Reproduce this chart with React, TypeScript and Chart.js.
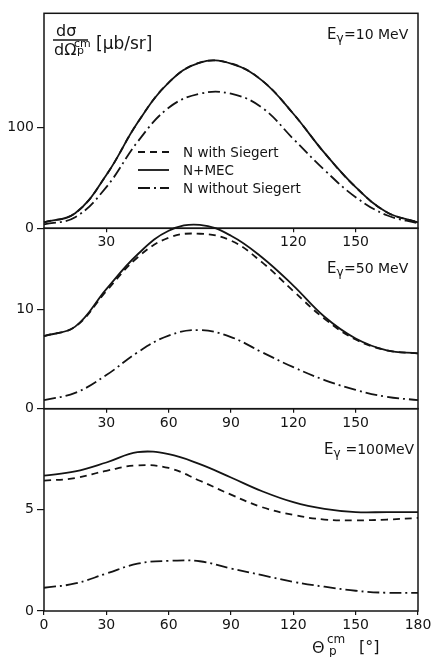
import React, { useEffect, useRef } from 'react';
import { Chart, registerables } from 'chart.js';

Chart.register(...registerables);

// ---------- data ----------
const angles = [0, 15, 30, 45, 60, 75, 90, 105, 120, 135, 150, 165, 180];

// E_gamma = 10 MeV
const mec10 = [6, 15, 53, 105, 145, 165, 164, 147, 114, 75, 41, 16, 6];
const siegert10 = [6, 15, 53, 105, 145, 165, 164, 147, 114, 75, 41, 16, 6];
const noSiegert10 = [4, 11, 41, 86, 120, 134, 134, 120, 89, 58, 31, 13, 5];

// E_gamma = 50 MeV
const mec50 = [7.35, 8.3, 12.1, 15.6, 18.0, 18.6, 17.5, 15.3, 12.45, 9.3, 7.1, 5.9, 5.6];
const siegert50 = [7.35, 8.3, 11.9, 15.3, 17.3, 17.7, 17.0, 14.8, 11.9, 9.1, 7.0, 5.9, 5.6];
const noSiegert50 = [0.87, 1.6, 3.4, 5.7, 7.4, 7.95, 7.25, 5.7, 4.2, 2.9, 1.9, 1.2, 0.87];

// E_gamma = 100 MeV
const mec100 = [6.69, 6.9, 7.34, 7.85, 7.75, 7.26, 6.6, 5.92, 5.38, 5.05, 4.89, 4.89, 4.89];
const siegert100 = [6.44, 6.57, 6.93, 7.2, 7.07, 6.44, 5.75, 5.13, 4.75, 4.52, 4.48, 4.52, 4.6];
const noSiegert100 = [1.15, 1.36, 1.85, 2.34, 2.48, 2.46, 2.1, 1.77, 1.44, 1.2, 1.0, 0.9, 0.9];

const xTicksTop = [30, 120, 150];
const xTicksMid = [30, 60, 90, 120, 150];
const xTicksBottom = [0, 30, 60, 90, 120, 150, 180];

const yTicks10 = [0, 100];
const yTicks50 = [0, 10];
const yTicks100 = [0, 5];

const yMax10 = 214;
const yMax50 = 18.25;
const yMax100 = 10;

const legendLabels = ['N with Siegert', 'N+MEC', 'N without Siegert'];
const energyLabels = ['10 MeV', '50 MeV', '100MeV'];

// ---------- styles ----------
const W = 436;
const H = 657;
const INK = '#141414';
const FONT = '"DejaVu Sans", sans-serif';
const DASHED = [7, 5];
const DASHDOT = [12, 4, 2, 4];

const toPts = (ys: number[]) => ys.map((y, i) => ({ x: angles[i], y }));

type PanelSpec = {
  top: number;
  bottom: number;
  yMax: number;
  yTicks: number[];
  xTicks: number[];
  mec: number[];
  siegert: number[];
  noSiegert: number[];
  draw: (ctx: CanvasRenderingContext2D) => void;
};

function txt(ctx: CanvasRenderingContext2D, s: string, x: number, y: number, size: number) {
  ctx.font = `${size}px ${FONT}`;
  ctx.fillStyle = INK;
  ctx.textAlign = 'left';
  ctx.textBaseline = 'alphabetic';
  ctx.fillText(s, x, y);
}

function energy(ctx: CanvasRenderingContext2D, x: number, y: number, label: string, gap: string) {
  txt(ctx, 'E', x, y, 15);
  txt(ctx, 'γ', x + 9.5, y + 3, 12);
  txt(ctx, gap + '=' + label, x + 17, y, 14);
}

function legend(ctx: CanvasRenderingContext2D) {
  const rows = [
    { dash: DASHED, y: 152 },
    { dash: [] as number[], y: 170 },
    { dash: DASHDOT, y: 188 },
  ];
  rows.forEach((r, i) => {
    ctx.save();
    ctx.strokeStyle = INK;
    ctx.lineWidth = 1.8;
    ctx.setLineDash(r.dash);
    ctx.beginPath();
    ctx.moveTo(138, r.y);
    ctx.lineTo(169, r.y);
    ctx.stroke();
    ctx.restore();
    txt(ctx, legendLabels[i], 183, r.y + 5, 13.5);
  });
}

const panels: PanelSpec[] = [
  {
    top: 13.3,
    bottom: 228.3,
    yMax: yMax10,
    yTicks: yTicks10,
    xTicks: xTicksTop,
    mec: mec10,
    siegert: siegert10,
    noSiegert: noSiegert10,
    draw: (ctx) => {
      txt(ctx, 'dσ', 56, 36, 16);
      ctx.save();
      ctx.strokeStyle = INK;
      ctx.lineWidth = 1.3;
      ctx.beginPath();
      ctx.moveTo(53, 40);
      ctx.lineTo(88, 40);
      ctx.stroke();
      ctx.restore();
      txt(ctx, 'dΩ', 54, 55, 16);
      txt(ctx, 'cm', 74, 47, 11);
      txt(ctx, 'p', 77, 54, 11);
      txt(ctx, '[μb/sr]', 96, 49, 17);
      energy(ctx, 327, 39, energyLabels[0], '');
      legend(ctx);
    },
  },
  {
    top: 228.3,
    bottom: 408.7,
    yMax: yMax50,
    yTicks: yTicks50,
    xTicks: xTicksMid,
    mec: mec50,
    siegert: siegert50,
    noSiegert: noSiegert50,
    draw: (ctx) => {
      energy(ctx, 327, 273, energyLabels[1], '');
    },
  },
  {
    top: 408.7,
    bottom: 611,
    yMax: yMax100,
    yTicks: yTicks100,
    xTicks: xTicksBottom,
    mec: mec100,
    siegert: siegert100,
    noSiegert: noSiegert100,
    draw: (ctx) => {
      energy(ctx, 324, 454, energyLabels[2], ' ');
      txt(ctx, 'Θ', 312, 653, 16);
      txt(ctx, 'cm', 327, 643, 12);
      txt(ctx, 'p', 329, 655, 12);
      txt(ctx, '[°]', 359, 652, 16);
    },
  },
];

const X_AXIS_H = 22;
const Y_AXIS_W = 44;

function makeChart(canvas: HTMLCanvasElement, p: PanelSpec) {
  const framePlugin = {
    id: 'frameAndText',
    afterDraw(chart: any) {
      const ctx: CanvasRenderingContext2D = chart.ctx;
      const a = chart.chartArea;
      ctx.save();
      ctx.strokeStyle = INK;
      ctx.lineWidth = 1.5;
      ctx.setLineDash([]);
      ctx.strokeRect(a.left, a.top, a.right - a.left, a.bottom - a.top);
      ctx.restore();
      p.draw(ctx);
    },
  };

  const common = {
    borderColor: INK,
    borderWidth: 1.8,
    pointRadius: 0,
    fill: false,
    tension: 0.4,
    clip: false as const,
  };

  return new Chart(canvas, {
    type: 'line',
    data: {
      datasets: [
        { ...common, label: legendLabels[1], data: toPts(p.mec) },
        { ...common, label: legendLabels[0], data: toPts(p.siegert), borderDash: DASHED },
        { ...common, label: legendLabels[2], data: toPts(p.noSiegert), borderDash: DASHDOT },
      ],
    },
    options: {
      responsive: false,
      animation: false,
      events: [],
      layout: {
        padding: {
          left: 0,
          right: W - 418,
          top: p.top,
          bottom: H - p.bottom - X_AXIS_H,
        },
      },
      plugins: {
        legend: { display: false },
        tooltip: { enabled: false },
      },
      scales: {
        x: {
          type: 'linear',
          min: 0,
          max: 180,
          afterBuildTicks: (s: any) => {
            s.ticks = p.xTicks.map((v) => ({ value: v }));
          },
          afterFit: (s: any) => {
            s.height = X_AXIS_H;
          },
          grid: {
            drawOnChartArea: false,
            drawTicks: true,
            tickLength: 4,
            color: INK,
            lineWidth: 1.2,
          },
          border: { display: false },
          ticks: {
            autoSkip: false,
            maxRotation: 0,
            padding: 2,
            color: INK,
            font: { family: FONT, size: 14 },
          },
        },
        y: {
          type: 'linear',
          min: 0,
          max: p.yMax,
          afterBuildTicks: (s: any) => {
            s.ticks = p.yTicks.map((v) => ({ value: v }));
          },
          afterFit: (s: any) => {
            s.width = Y_AXIS_W;
          },
          grid: {
            drawOnChartArea: false,
            drawTicks: true,
            tickLength: 7,
            color: INK,
            lineWidth: 1.2,
          },
          border: { display: false },
          ticks: {
            padding: 3,
            color: INK,
            font: { family: FONT, size: 14 },
          },
        },
      },
    },
    plugins: [framePlugin],
  } as any);
}

export default function App() {
  const r0 = useRef<HTMLCanvasElement>(null);
  const r1 = useRef<HTMLCanvasElement>(null);
  const r2 = useRef<HTMLCanvasElement>(null);

  useEffect(() => {
    const refs = [r0, r1, r2];
    const charts = refs.map((r, i) => makeChart(r.current as HTMLCanvasElement, panels[i]));
    return () => charts.forEach((c) => c.destroy());
  }, []);

  const cs: React.CSSProperties = {
    position: 'absolute',
    left: 0,
    top: 0,
    width: W,
    height: H,
  };

  return (
    <div style={{ position: 'absolute', left: 0, top: 0, width: W, height: H, background: '#fff' }}>
      <canvas ref={r0} width={W} height={H} style={cs} />
      <canvas ref={r1} width={W} height={H} style={cs} />
      <canvas ref={r2} width={W} height={H} style={cs} />
    </div>
  );
}
